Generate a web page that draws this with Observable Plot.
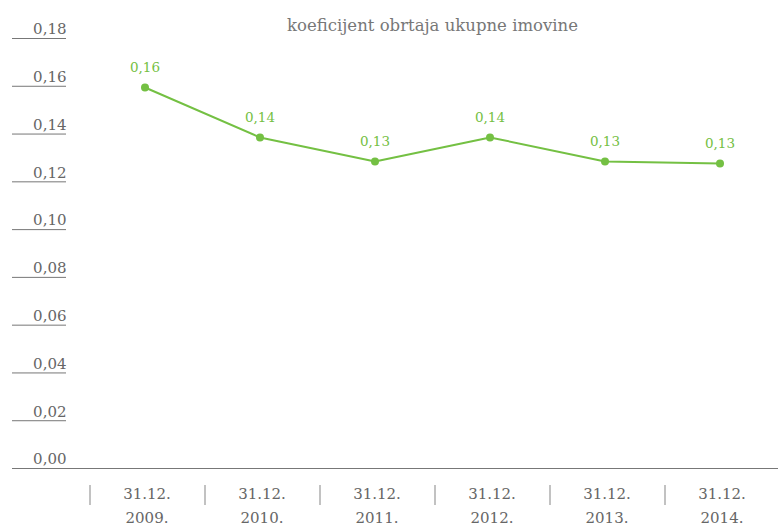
<!DOCTYPE html>
<html><head><meta charset="utf-8">
<script src="https://cdn.jsdelivr.net/npm/d3@7"></script>
<script src="https://cdn.jsdelivr.net/npm/@observablehq/plot@0.6"></script>
<style>body{margin:0;background:#fff}</style>
</head><body><div id="chart"></div>
<script>
const title = "koeficijent obrtaja ukupne imovine";
const categories = ["31.12.\n2009.", "31.12.\n2010.", "31.12.\n2011.", "31.12.\n2012.", "31.12.\n2013.", "31.12.\n2014."];
const values = [0.1595, 0.1386, 0.1285, 0.1386, 0.1285, 0.1277];
const valueLabels = ["0,16", "0,14", "0,13", "0,14", "0,13", "0,13"];
const yTicks = [0, 0.02, 0.04, 0.06, 0.08, 0.10, 0.12, 0.14, 0.16, 0.18];

const data = categories.map((c, i) => ({cat: c, value: values[i], label: valueLabels[i]}));
const fmt = d => d.toFixed(2).replace(".", ",");
const font = "DejaVu Serif";
const green = "#74c043";

const chart = Plot.plot({
  width: 778, height: 527,
  marginLeft: 12, marginRight: 0, marginTop: 38, marginBottom: 59,
  style: {fontFamily: font, background: "#fff"},
  x: {type: "band", domain: categories, range: [86, 778], padding: 0, axis: null},
  y: {domain: [0, 0.18], axis: null},
  marks: [
    Plot.ruleY(yTicks.filter(d => d > 0), {y: d => d, insetRight: 712, stroke: "#777", strokeWidth: 1}),
    Plot.ruleY([0], {stroke: "#777", strokeWidth: 1.2}),
    Plot.text(yTicks, {y: d => d, text: fmt, frameAnchor: "left", dx: 54, dy: -9, textAnchor: "end", fill: "#666", fontSize: 15}),
    Plot.ruleX(categories, {x: d => d, dx: -55, insetTop: 447, insetBottom: -37, stroke: "#999", strokeWidth: 1.2}),
    Plot.text(categories, {x: d => d, text: d => d, frameAnchor: "bottom", dx: 2, dy: 54, lineHeight: 1.6, fill: "#666", fontSize: 15}),
    Plot.text([title], {text: d => d, frameAnchor: "top", dx: 37, dy: -19, fill: "#777", fontSize: 16.5}),
    Plot.line(data, {x: "cat", y: "value", stroke: green, strokeWidth: 2}),
    Plot.dot(data, {x: "cat", y: "value", r: 4, fill: green, stroke: "none"}),
    Plot.text(data, {x: "cat", y: "value", text: "label", dy: -20, fill: green, fontSize: 13.5})
  ]
});
document.getElementById("chart").append(chart);
</script>
</body></html>
